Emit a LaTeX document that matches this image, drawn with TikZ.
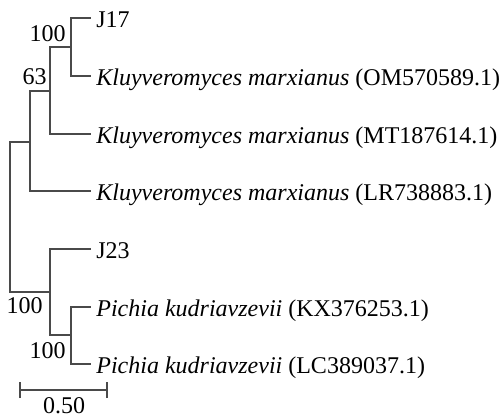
\documentclass[tikz,border=0pt]{standalone}
\usepackage{fontspec}
\setmainfont{Liberation Serif}
\usetikzlibrary{positioning}
\definecolor{branchColor}{HTML}{4A4A4A}

\begin{document}
\begin{tikzpicture}[x=0.5pt,y=-0.5pt,
    leaf/.style={anchor=west, inner sep=2.5pt, text height=9.5pt, text depth=0.5pt, font=\fontsize{12}{14}\selectfont},
    boot/.style={anchor=base east, inner sep=0pt, font=\fontsize{12}{14}\selectfont},
    branch/.style={draw=branchColor, line width=0.65pt}]
  \useasboundingbox (0,0) rectangle (504,418);

  % leaves
  \node[leaf] (j17) at (91,18) {J17};
  \node[leaf] (om) at (91,76) {\textit{Kluyveromyces marxianus} (OM570589.1)};
  \node[leaf] (mt) at (91,134) {\textit{Kluyveromyces marxianus} (MT187614.1)};
  \node[leaf] (lr) at (91,191) {\textit{Kluyveromyces marxianus} (LR738883.1)};
  \node[leaf] (j23) at (91,249) {J23};
  \node[leaf] (kx) at (91,307) {\textit{Pichia kudriavzevii} (KX376253.1)};
  \node[leaf] (lc) at (91,364) {\textit{Pichia kudriavzevii} (LC389037.1)};

  % internal nodes
  \coordinate (n1) at (71,47);
  \coordinate (n2) at (50,91);
  \coordinate (n3) at (30,142);
  \coordinate (n4) at (71,335);
  \coordinate (n5) at (50,292);
  \coordinate (root) at (10,217);

  \draw[branch] (n1) |- (j17.west);
  \draw[branch] (n1) |- (om.west);
  \draw[branch] (n2) |- (n1);
  \draw[branch] (n2) |- (mt.west);
  \draw[branch] (n3) |- (n2);
  \draw[branch] (n3) |- (lr.west);
  \draw[branch] (n4) |- (kx.west);
  \draw[branch] (n4) |- (lc.west);
  \draw[branch] (n5) |- (j23.west);
  \draw[branch] (n5) |- (n4);
  \draw[branch] (root) |- (n3);
  \draw[branch] (root) |- (n5);

  % bootstrap values
  \node[boot] (b1) at (66,41) {100};
  \node[boot] (b2) at (47,84) {63};
  \node[boot] (b5) at (43,313) {100};
  \node[boot] (b4) at (66,358) {100};

  % scale bar
  \coordinate (s0) at (20,390);
  \coordinate (s1) at (107,390);
  \draw[branch] (s0) -- (s1);
  \draw[branch] ([yshift=-4]s0) -- ([yshift=4]s0);
  \draw[branch] ([yshift=-4]s1) -- ([yshift=4]s1);
  \node[anchor=base, inner sep=0pt, font=\fontsize{12}{14}\selectfont] (scale) at (64,413) {0.50};
\end{tikzpicture}
\end{document}
